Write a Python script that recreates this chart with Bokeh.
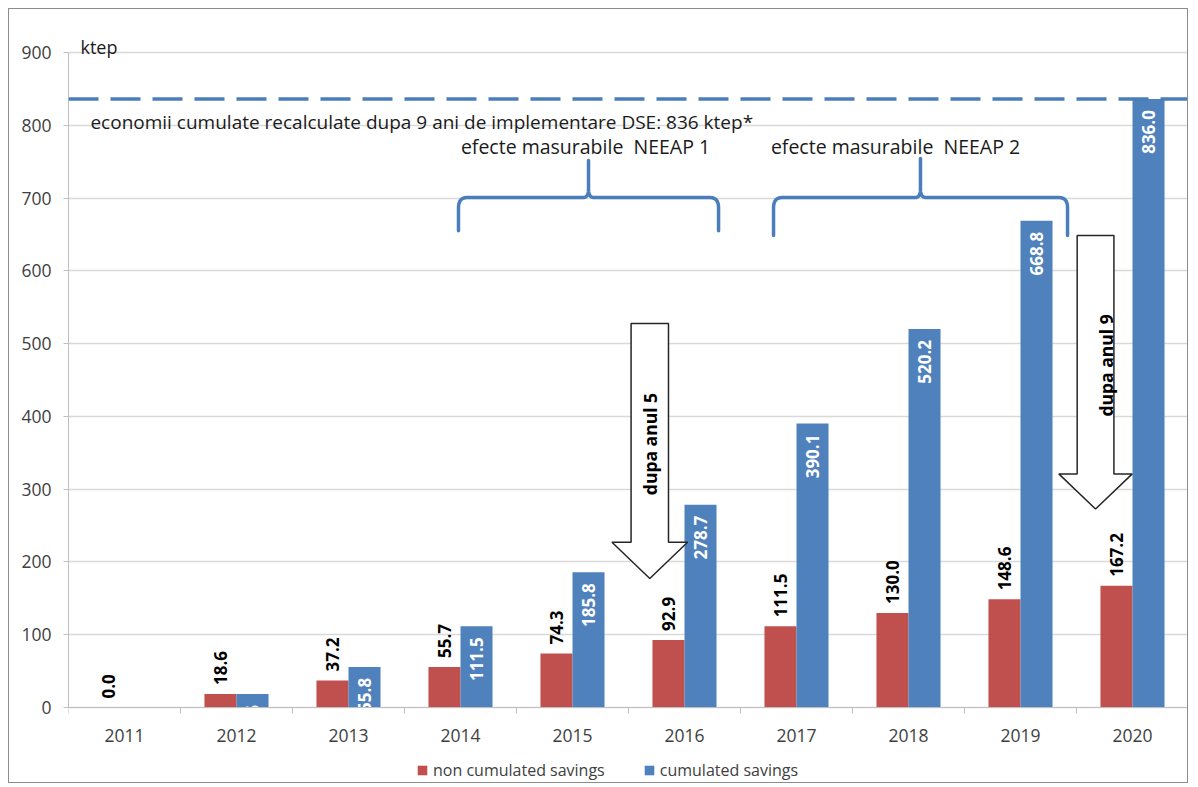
import math
from bokeh.plotting import figure
from bokeh.models import (ColumnDataSource, FixedTicker, Span, Label, Legend,
                          LegendItem, Range1d)
from bokeh.core.properties import value
from bokeh.embed import file_html
from bokeh.resources import INLINE

# ---------------- data ----------------
years = ["2011", "2012", "2013", "2014", "2015", "2016", "2017", "2018", "2019", "2020"]
non_cumulated = [0.0, 18.6, 37.2, 55.7, 74.3, 92.9, 111.5, 130.0, 148.6, 167.2]
cumulated = [0.0, 18.6, 55.8, 111.5, 185.8, 278.7, 390.1, 520.2, 668.8, 836.0]
y_ticks = [0, 100, 200, 300, 400, 500, 600, 700, 800, 900]
series_names = ["non cumulated savings", "cumulated savings"]
target_value = 836.0
target_text = "economii cumulate recalculate dupa 9 ani de implementare DSE: 836 ktep*"
unit_text = "ktep"
neeap_texts = ["efecte masurabile\u00a0 NEEAP 1", "efecte masurabile\u00a0 NEEAP 2"]
arrow_texts = ["dupa anul 5", "dupa anul 9"]

# ---------------- style ----------------
RED = "#c0504d"
BLUE = "#4f81bd"
LINEBLUE = "#4a7ebb"
FONT = "Open Sans"
BAR_W = 0.286
Y_LO, Y_HI = -105.8, 959.1   # frame extends above/below the 0..900 axis

idx = list(range(len(years)))
x_red = [i - BAR_W / 2 for i in idx]
x_blue = [i + BAR_W / 2 for i in idx]

p = figure(width=1180, height=775, output_backend="svg", toolbar_location=None,
           x_range=Range1d(-0.5, len(years) - 0.5), y_range=Range1d(Y_LO, Y_HI),
           min_border_left=59, min_border_right=1, min_border_top=0, min_border_bottom=0)
p.styles = {"border": "1px solid #8c8c8c", "margin-left": "8px", "margin-top": "8px"}
p.outline_line_color = None
p.background_fill_color = "white"
p.border_fill_color = "white"

# axes
p.xaxis.fixed_location = 0
p.xaxis.ticker = FixedTicker(ticks=idx, minor_ticks=[i - 0.5 for i in range(len(years) + 1)])
p.xaxis.major_label_overrides = {i: y for i, y in zip(idx, years)}
p.xaxis.major_tick_out = 0
p.xaxis.major_tick_in = 0
p.xaxis.minor_tick_out = 6
p.xaxis.minor_tick_in = 0
p.xaxis.minor_tick_line_color = "#bfbfbf"
p.xaxis.major_label_standoff = 15
p.yaxis.ticker = FixedTicker(ticks=y_ticks)
p.yaxis.bounds = (0, 900)
p.yaxis.major_tick_out = 5
p.yaxis.major_tick_in = 0
p.yaxis.minor_tick_line_color = None
p.yaxis.major_label_standoff = 12
for ax in (p.xaxis, p.yaxis):
    ax.axis_line_color = "#bfbfbf"
    ax.major_tick_line_color = "#bfbfbf"
    ax.major_label_text_font = FONT
    ax.major_label_text_font_size = "17.5px"
    ax.major_label_text_color = "#404040"
p.xgrid.visible = False
p.ygrid.ticker = FixedTicker(ticks=y_ticks)
p.ygrid.grid_line_color = "#d9d9d9"
p.ygrid.grid_line_width = 1.3

# bars
src = ColumnDataSource(dict(x_red=x_red, x_blue=x_blue, nc=non_cumulated, c=cumulated,
                            nc_lab=["%.1f" % v for v in non_cumulated],
                            c_lab=["%.1f" % v if v > 0 else "" for v in cumulated]))
r_red = p.vbar(x="x_red", top="nc", width=BAR_W, source=src, fill_color=RED, line_color=None)
r_blue = p.vbar(x="x_blue", top="c", width=BAR_W, source=src, fill_color=BLUE, line_color=None)

# data labels
p.text(x="x_red", y="nc", text="nc_lab", source=src, angle=math.pi / 2,
       text_align="left", text_baseline="middle", y_offset=-9,
       text_font=value(FONT), text_font_style="bold", text_font_size="17px", text_color="black")
p.text(x="x_blue", y="c", text="c_lab", source=src, angle=math.pi / 2,
       text_align="right", text_baseline="middle", y_offset=11,
       text_font=value(FONT), text_font_style="bold", text_font_size="17px", text_color="white")

# target dashed line
p.add_layout(Span(location=target_value, dimension="width", line_color=LINEBLUE,
                  line_width=3.5, line_dash="30 12"))
p.add_layout(Label(x=-0.304, y=804, text=target_text, text_font=FONT, text_font_size="19px",
                   text_color="#1a1a1a", text_baseline="alphabetic"))
p.add_layout(Label(x=-0.393, y=907, text=unit_text, text_font=FONT, text_font_size="18px",
                   text_color="#1a1a1a", text_baseline="alphabetic"))

# braces (annotation geometry)
braces = [dict(x0=2.982, x1=5.304, xm=4.143, y_end=655, y_bar=700.7, y_tip=751.6),
          dict(x0=5.795, x1=8.420, xm=7.107, y_end=648.5, y_bar=700.7, y_tip=754.3)]


def quad(pa, pc, pb, n=8):
    out = []
    for k in range(n + 1):
        t = k / n
        out.append(((1 - t) ** 2 * pa[0] + 2 * (1 - t) * t * pc[0] + t ** 2 * pb[0],
                    (1 - t) ** 2 * pa[1] + 2 * (1 - t) * t * pc[1] + t ** 2 * pb[1]))
    return out


def brace_path(b):
    rx, ry = 0.075, 14.0
    tx, ty = 0.05, 11.0
    pts = [(b["x0"], b["y_end"])]
    pts += quad((b["x0"], b["y_bar"] - ry), (b["x0"], b["y_bar"]), (b["x0"] + rx, b["y_bar"]))
    pts += quad((b["xm"] - tx, b["y_bar"]), (b["xm"], b["y_bar"]), (b["xm"], b["y_bar"] + ty))
    pts += [(b["xm"], b["y_tip"])]
    pts += quad((b["xm"], b["y_bar"] + ty), (b["xm"], b["y_bar"]), (b["xm"] + tx, b["y_bar"]))
    pts += quad((b["x1"] - rx, b["y_bar"]), (b["x1"], b["y_bar"]), (b["x1"], b["y_bar"] - ry))
    pts += [(b["x1"], b["y_end"])]
    return [q[0] for q in pts], [q[1] for q in pts]


for b, t, tx in zip(braces, neeap_texts, [4.116, 6.884]):
    bx, by = brace_path(b)
    p.line(bx, by, line_color=LINEBLUE, line_width=3.5, line_join="round", line_cap="round")
    p.text(x=[tx], y=[771], text=[t], text_align="center", text_baseline="alphabetic",
           text_font=value(FONT), text_font_size="19.5px", text_color="#1a1a1a")

# block arrows (annotation geometry)
arrows = [dict(cx=4.69, half=0.167, head=0.3375, top=527.6, base=227.0, tip=177.2, tx=4.696, ty=362),
          dict(cx=8.67, half=0.164, head=0.328, top=648.5, base=321.0, tip=272.8, tx=8.766, ty=470)]
for a, t in zip(arrows, arrow_texts):
    ax_ = [a["cx"] - a["half"], a["cx"] + a["half"], a["cx"] + a["half"], a["cx"] + a["head"],
           a["cx"], a["cx"] - a["head"], a["cx"] - a["half"]]
    ay_ = [a["top"], a["top"], a["base"], a["base"], a["tip"], a["base"], a["base"]]
    p.patch(ax_, ay_, fill_color="white", line_color="#262626", line_width=1.5)
    p.text(x=[a["tx"]], y=[a["ty"]], text=[t], angle=math.pi / 2, text_align="center",
           text_baseline="middle", text_font=value(FONT), text_font_style="bold",
           text_font_size="17.5px", text_color="black")

# legend (inside the extended frame, below the axis labels)
legend = Legend(items=[LegendItem(label=series_names[0], renderers=[r_red]),
                       LegendItem(label=series_names[1], renderers=[r_blue])],
                orientation="horizontal", location=(348, 3), padding=0, margin=0,
                spacing=38, glyph_width=12, glyph_height=12, label_standoff=5,
                label_text_font=FONT, label_text_font_size="16px", label_text_color="#404040",
                border_line_color=None, background_fill_alpha=0)
p.add_layout(legend, "center")

open("out.html", "w").write(file_html(p, INLINE))
